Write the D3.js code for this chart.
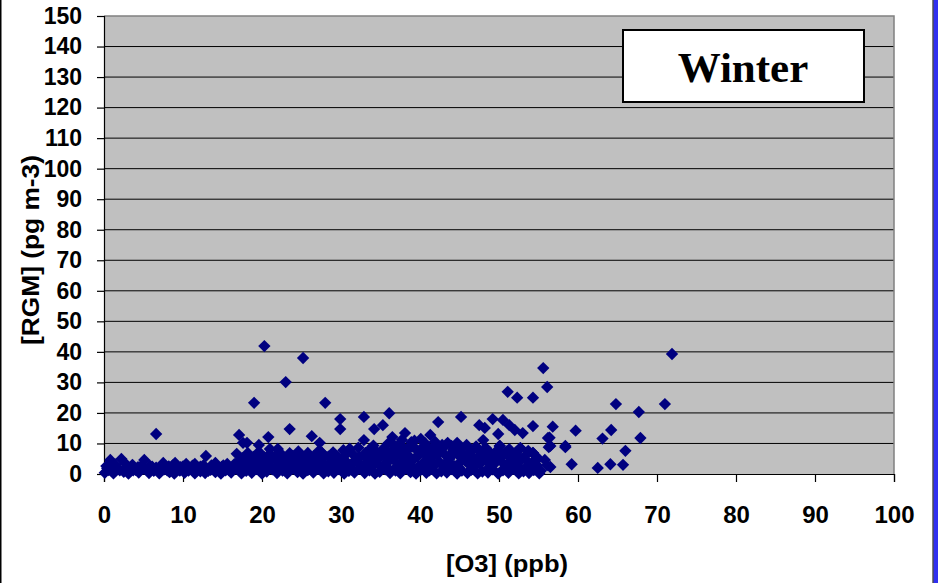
<!DOCTYPE html>
<html><head><meta charset="utf-8">
<script src="https://cdn.jsdelivr.net/npm/d3@7"></script>
<style>
html,body{margin:0;padding:0;background:#fff;}
svg{display:block;}
</style></head>
<body>
<svg id="chart" width="938" height="583"></svg>
<script>
// ---------- DATA ----------
const xTicks = [0,10,20,30,40,50,60,70,80,90,100];
const yTicks = [0,10,20,30,40,50,60,70,80,90,100,110,120,130,140,150];
const xTitle = "[O3] (ppb)";
const yTitle = "[RGM] (pg m-3)";
const panelLabel = "Winter";

// [O3 (ppb), RGM (pg m-3)]
const lowBand = [[0.1,0.4],[0.6,1.3],[1.2,0.2],[1.8,1.6],[2.5,0.7],[3.1,0.1],[3.7,1.2],[4.4,0.5],[5.0,1.8],[5.7,0.3],[6.3,1.0],[7.0,0.2],[7.6,1.5],[8.3,0.6],[8.9,0.1],[9.6,1.1],[10.2,0.4],[10.9,1.7],[11.5,0.2],[12.2,0.9],[12.8,0.3],[13.5,1.4],[14.1,0.6],[14.8,0.1],[15.4,1.2],[16.1,0.5],[16.7,1.9],[17.4,0.2],[18.0,1.0],[18.7,0.4],[19.3,1.6],[20.0,0.1],[20.6,0.8],[21.3,1.5],[21.9,0.3],[22.6,1.1],[23.2,0.2],[23.9,1.8],[24.5,0.6],[25.2,0.1],[25.8,1.3],[26.5,0.5],[27.1,1.7],[27.8,0.2],[28.4,0.9],[29.1,0.4],[29.7,1.6],[30.4,0.1],[31.0,1.0],[31.7,0.5],[32.3,1.8],[33.0,0.3],[33.6,1.2],[34.3,0.1],[34.9,0.7],[35.6,1.5],[36.2,0.3],[36.9,1.1],[37.5,0.2],[38.2,1.9],[38.8,0.6],[39.5,0.1],[40.1,1.4],[40.8,0.4],[41.4,1.7],[42.1,0.2],[42.7,0.9],[43.4,0.5],[44.0,1.6],[44.7,0.1],[45.3,1.1],[46.0,0.3],[46.6,1.8],[47.3,0.2],[47.9,0.8],[48.6,0.5],[49.2,1.5],[49.9,0.1],[50.5,1.2],[51.2,0.4],[51.8,1.7],[52.5,0.2],[53.1,0.9],[53.8,0.3],[54.4,1.3],[55.1,0.2]];

const fillBand = [[0.4,1.9],[1.0,2.8],[2.0,1.2],[2.7,3.4],[3.4,2.0],[4.0,1.4],[4.8,2.9],[5.5,1.1],[6.1,2.4],[6.8,1.3],[7.3,2.6],[8.0,1.2],[8.7,2.8],[9.3,1.4],[10.0,2.5],[10.7,1.1],[11.2,2.7],[11.9,1.5],[12.6,2.9],[13.2,1.0],[13.9,2.2],[14.5,1.6],[15.1,2.8],[15.8,1.3],[16.5,3.2],[17.2,1.4],[17.9,3.6],[18.5,2.1],[19.2,3.4],[19.9,1.7],[20.5,3.9],[21.2,2.2],[21.9,4.3],[22.6,1.8],[23.3,3.7],[24.0,2.4],[24.7,4.5],[25.4,1.9],[26.1,3.6],[26.8,2.3],[27.5,4.1],[28.2,1.8],[28.9,3.3],[29.6,2.6],[30.2,5.1],[30.9,2.0],[31.6,3.8],[32.3,5.5],[33.0,2.2],[33.7,4.4],[34.4,6.4],[35.0,2.4],[35.7,5.2],[36.4,7.3],[37.0,2.1],[37.7,5.6],[38.4,8.2],[39.0,2.5],[39.7,5.8],[40.3,8.7],[41.0,2.3],[41.6,5.9],[42.3,7.8],[42.9,2.6],[43.6,5.7],[44.3,7.2],[44.9,2.1],[45.6,5.6],[46.2,7.0],[46.9,2.5],[47.5,5.3],[48.1,7.3],[48.8,2.2],[49.4,4.5],[50.0,6.6],[50.7,2.0],[51.4,5.3],[52.1,7.0],[52.7,1.9],[53.3,4.9],[54.0,2.0],[54.6,4.2],[55.3,1.1]];

const denseBand = [[17.6,4.6],[19.4,5.1],[20.9,6.4],[22.3,6.9],[23.7,4.2],[25.0,6.2],[26.3,4.0],[27.7,5.5],[29.2,6.2],[30.7,6.6],[31.9,4.6],[33.1,6.9],[34.2,8.0],[35.5,7.0],[36.7,9.5],[37.9,8.6],[39.3,10.9],[40.6,10.2],[41.7,9.0],[43.0,8.8],[44.0,9.2],[45.2,8.2],[46.1,5.9],[47.3,7.9],[48.6,6.1],[49.8,7.8],[51.0,7.4],[52.4,6.0],[53.7,7.6],[54.6,6.0],[31.4,1.4],[33.9,2.4],[36.0,1.8],[38.5,2.9],[41.2,1.2],[43.9,3.3],[46.5,1.4],[49.1,3.1],[51.6,2.6],[53.9,1.6]];

const midBand = [[0.3,2.6],[0.8,4.6],[1.4,3.1],[2.2,4.9],[2.9,2.4],[3.6,3.0],[4.3,2.2],[5.1,4.6],[5.8,2.7],[6.6,2.1],[7.5,3.6],[8.2,2.5],[9.0,3.6],[9.7,2.2],[10.4,3.3],[11.5,3.3],[12.2,2.4],[12.9,5.9],[13.6,2.8],[14.1,3.6],[14.9,2.3],[15.6,3.3],[16.4,2.6],[17.0,4.1],[17.7,2.9],[18.3,3.8],[19.0,2.3],[19.7,4.4],[20.4,3.0],[21.1,4.8],[21.8,2.5],[22.4,3.9],[23.1,2.8],[23.9,5.0],[24.6,3.9],[25.2,2.6],[25.9,4.5],[26.6,3.1],[27.3,4.9],[27.9,2.4],[28.6,3.7],[29.3,4.6],[30.0,2.7],[30.6,4.2],[31.3,3.2],[32.0,4.8],[32.6,2.5],[33.3,4.0],[34.0,3.0],[34.6,4.7],[35.3,2.6],[35.9,3.8],[36.6,4.9],[37.2,2.9],[37.9,4.3],[38.5,3.3],[39.2,4.8],[39.8,2.4],[40.5,3.9],[41.1,4.6],[41.8,2.8],[42.4,4.1],[43.1,3.1],[43.7,4.9],[44.4,2.6],[45.0,3.6],[45.7,4.5],[46.3,2.9],[47.0,4.2],[47.6,3.3],[48.3,4.7],[48.9,2.5],[49.6,3.8],[50.2,4.4],[50.9,2.7],[51.5,4.0],[52.2,3.2],[52.8,4.6],[53.5,2.4],[54.1,3.5],[54.8,2.9],[56.1,2.9]];

const upperBand = [[16.8,6.6],[17.5,5.2],[18.2,6.9],[18.9,5.6],[19.6,7.3],[20.3,5.4],[21.0,8.2],[21.7,6.0],[22.0,8.2],[22.8,5.3],[23.5,6.8],[23.9,5.9],[24.6,7.4],[25.3,5.5],[25.8,6.9],[26.5,5.8],[27.2,7.6],[27.6,6.9],[28.4,5.7],[29.0,7.1],[29.7,5.4],[30.3,7.8],[31.1,8.2],[31.6,6.2],[32.2,8.6],[32.9,5.9],[33.5,7.7],[34.1,9.3],[34.8,6.4],[35.4,8.4],[36.0,10.1],[36.6,6.8],[37.1,9.0],[37.7,11.2],[38.3,7.5],[38.9,10.4],[39.5,8.1],[40.1,11.5],[40.7,9.3],[41.3,7.2],[41.9,10.6],[42.5,8.4],[43.1,6.5],[43.5,10.2],[44.2,7.9],[44.7,10.2],[45.3,6.8],[45.9,9.5],[46.5,7.6],[47.1,9.0],[47.7,6.3],[48.3,8.6],[48.9,7.0],[49.5,5.6],[50.1,9.2],[50.7,6.8],[51.3,8.1],[51.9,5.5],[52.7,8.5],[53.4,6.2],[54.3,6.9],[54.9,5.2],[55.8,4.6],[56.5,2.3],[33.8,5.5],[35.1,6.0],[36.3,5.3],[37.5,6.2],[38.7,5.6],[39.9,6.5],[41.0,5.3],[42.2,6.1],[43.8,5.4],[45.0,5.8],[46.8,5.2],[36.8,8.0],[39.0,9.0],[40.5,7.5],[42.8,9.5],[38.1,13.4],[41.3,12.8]];

const outliers = [[6.6,13.1],[20.3,41.9],[25.2,38.0],[23.0,30.1],[19.0,23.3],[28.0,23.3],[23.5,14.7],[17.1,12.8],[20.8,12.1],[26.3,12.4],[17.6,10.2],[18.1,10.2],[19.6,9.5],[27.3,10.2],[27.6,6.9],[29.9,18.0],[32.9,18.7],[36.1,19.9],[34.2,14.7],[35.3,16.0],[29.9,14.7],[42.3,17.0],[45.2,18.7],[32.9,11.1],[36.5,12.1],[49.2,18.0],[50.5,17.7],[47.5,16.0],[48.2,15.1],[49.9,13.1],[51.3,16.0],[52.0,14.4],[53.0,13.4],[54.3,15.7],[48.0,11.1],[31.1,8.2],[51.1,26.9],[52.3,25.0],[54.3,25.0],[55.6,34.7],[56.1,28.5],[64.8,22.9],[67.7,20.3],[71.0,22.9],[71.9,39.3],[56.8,15.5],[59.7,14.2],[56.4,11.9],[64.2,14.4],[63.1,11.6],[67.9,11.8],[56.5,9.2],[58.4,9.2],[66.0,7.6],[62.5,2.0],[64.1,3.2],[65.7,3.0],[59.2,3.2],[50.1,9.2],[52.7,8.5],[54.3,6.9],[58.4,8.8],[56.2,11.8],[56.3,8.8]];

// ---------- DRAW ----------
const svg = d3.select("#chart");
const W = 938, H = 583;
const plot = {left:104, right:894, top:16, bottom:474};

const x = d3.scaleLinear().domain([0,100]).range([plot.left, plot.right]);
const y = d3.scaleLinear().domain([0,150]).range([plot.bottom, plot.top]);

svg.append("rect").attr("width",W).attr("height",H).attr("fill","#fff");

svg.append("rect")
  .attr("x",plot.left).attr("y",plot.top)
  .attr("width",plot.right-plot.left).attr("height",plot.bottom-plot.top)
  .attr("fill","#c0c0c0");

svg.append("g").selectAll("line")
  .data(yTicks.filter(d=>d>0 && d<150))
  .join("line")
  .attr("x1",plot.left).attr("x2",plot.right)
  .attr("y1",d=>y(d)).attr("y2",d=>y(d))
  .attr("stroke","#000").attr("stroke-width",1);

svg.append("path")
  .attr("d",`M${plot.left},${plot.top}H${plot.right}V${plot.bottom}`)
  .attr("fill","none").attr("stroke","#808080").attr("stroke-width",1.5);

const fontStack = "'Liberation Sans', Arial, Helvetica, sans-serif";

const yAxis = d3.axisLeft(y).tickValues(yTicks).tickSize(7).tickPadding(15).tickFormat(d3.format("d"));
const gy = svg.append("g").attr("transform",`translate(${plot.left},0)`).call(yAxis);
const xAxis = d3.axisBottom(x).tickValues(xTicks).tickSize(8).tickPadding(24).tickFormat(d3.format("d"));
const gx = svg.append("g").attr("transform",`translate(0,${plot.bottom})`).call(xAxis);

[gx, gy].forEach(g=>{
  g.select(".domain").attr("stroke","#000").attr("stroke-width",1.2);
  g.selectAll(".tick line").attr("stroke","#000").attr("stroke-width",1.2);
  g.selectAll(".tick text")
    .attr("fill","#000")
    .style("font-family",fontStack)
    .style("font-weight","bold");
});
gy.selectAll(".tick text").style("font-size","23px");
gx.selectAll(".tick text").style("font-size","24px");

const allPts = [...lowBand, ...fillBand, ...denseBand, ...midBand, ...upperBand, ...outliers];
const diamond = d3.symbol().type(d3.symbolSquare).size(76);
svg.append("g").selectAll("path")
  .data(allPts)
  .join("path")
  .attr("d",diamond)
  .attr("transform",d=>`translate(${x(d[0])},${y(d[1])}) rotate(45)`)
  .attr("fill","#000080");

svg.append("text")
  .attr("x",(plot.left+plot.right)/2+8).attr("y",572)
  .attr("text-anchor","middle")
  .attr("textLength",122).attr("lengthAdjust","spacingAndGlyphs")
  .style("font-family",fontStack).style("font-weight","bold").style("font-size","23px")
  .text(xTitle);

svg.append("text")
  .attr("transform",`translate(39,250) rotate(-90)`)
  .attr("text-anchor","middle")
  .attr("textLength",190).attr("lengthAdjust","spacingAndGlyphs")
  .style("font-family",fontStack).style("font-weight","bold").style("font-size","23px")
  .text(yTitle);

svg.append("rect")
  .attr("x",623).attr("y",30).attr("width",241).attr("height",72)
  .attr("fill","#fff").attr("stroke","#000").attr("stroke-width",2);
svg.append("text")
  .attr("x",743).attr("y",82)
  .attr("text-anchor","middle")
  .style("font-family","'Liberation Serif','Times New Roman',serif")
  .style("font-weight","bold").style("font-size","43px")
  .text(panelLabel);

svg.append("rect").attr("x",0).attr("y",0).attr("width",1.5).attr("height",H).attr("fill","#000");
svg.append("rect").attr("x",932.5).attr("y",0).attr("width",1.2).attr("height",H).attr("fill","#000");
svg.append("rect").attr("x",933.7).attr("y",0).attr("width",4.3).attr("height",H).attr("fill","#3030f0");
</script>
</body></html>
